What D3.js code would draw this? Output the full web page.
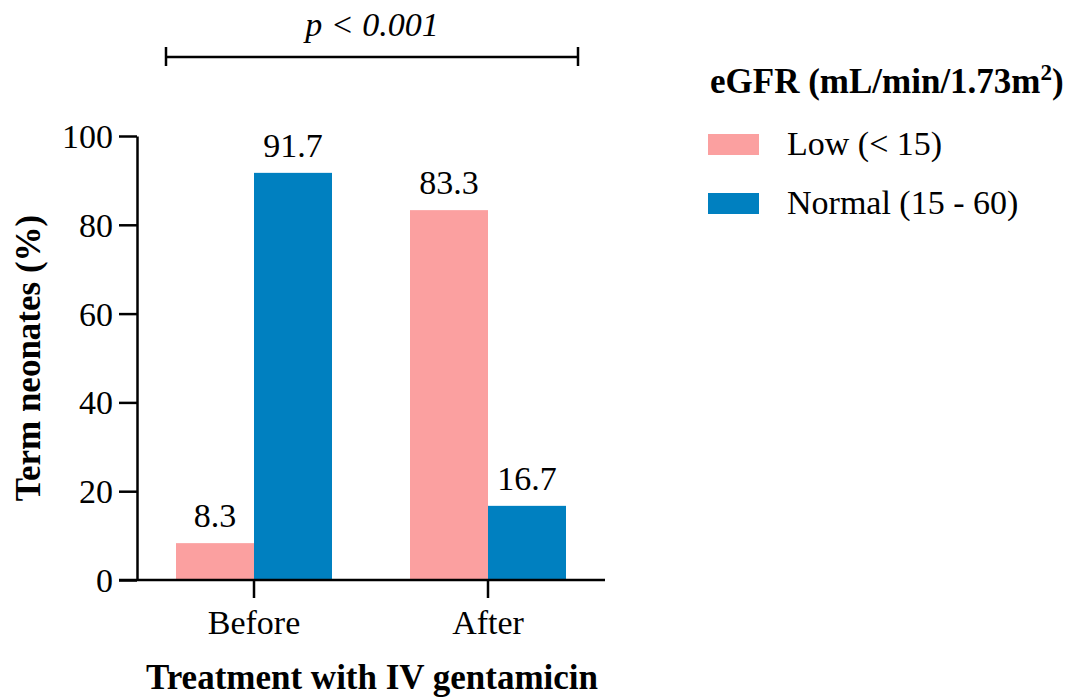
<!DOCTYPE html>
<html>
<head>
<meta charset="utf-8">
<script src="https://cdn.jsdelivr.net/npm/d3@7"></script>
<style>
  body { margin: 0; background: #fff; }
  svg text { font-family: "Liberation Serif", "Times New Roman", serif; fill: #000; }
</style>
</head>
<body>
<div id="chart"></div>
<script>
// data
var categories = ["Before", "After"];
var seriesNames = ["Low (< 15)", "Normal (15 - 60)"];
var lowValues = [8.3, 83.3];
var normalValues = [91.7, 16.7];
var yTicks = [0, 20, 40, 60, 80, 100];
var seriesColors = ["#FBA0A0", "#0080C0"];

var width = 1072, height = 700;
var margin = { top: 136, right: 467, bottom: 120, left: 137 };
var plotW = width - margin.left - margin.right;
var plotH = height - margin.top - margin.bottom;

var svg = d3.select("#chart").append("svg")
    .attr("width", width)
    .attr("height", height);

var g = svg.append("g")
    .attr("transform", "translate(" + margin.left + "," + margin.top + ")");

// scales
var x0 = d3.scaleBand()
    .domain(categories)
    .range([0, plotW])
    .paddingInner(1 / 3)
    .paddingOuter(1 / 6);

var x1 = d3.scaleBand()
    .domain(seriesNames)
    .range([0, x0.bandwidth()]);

var y = d3.scaleLinear()
    .domain([0, 100])
    .range([plotH, 0]);

// build rows for the grouped bars
var rows = categories.map(function(c, i) {
    return {
        cat: c,
        vals: [
            { name: seriesNames[0], value: lowValues[i], color: seriesColors[0] },
            { name: seriesNames[1], value: normalValues[i], color: seriesColors[1] }
        ]
    };
});

var groups = g.selectAll(".grp")
    .data(rows)
    .enter().append("g")
    .attr("class", "grp")
    .attr("transform", function(d) { return "translate(" + x0(d.cat) + ",0)"; });

groups.selectAll("rect")
    .data(function(d) { return d.vals; })
    .enter().append("rect")
    .attr("x", function(d) { return x1(d.name); })
    .attr("y", function(d) { return y(d.value); })
    .attr("width", x1.bandwidth())
    .attr("height", function(d) { return plotH - y(d.value); })
    .attr("fill", function(d) { return d.color; });

// value labels
groups.selectAll("text.val")
    .data(function(d) { return d.vals; })
    .enter().append("text")
    .attr("class", "val")
    .attr("x", function(d) { return x1(d.name) + x1.bandwidth() / 2; })
    .attr("y", function(d) { return y(d.value) - 16; })
    .attr("text-anchor", "middle")
    .style("font-size", "34px")
    .text(function(d) { return d.value.toFixed(1); });

// y axis
var yAxis = g.append("g")
    .call(d3.axisLeft(y).tickValues(yTicks).tickSize(18).tickPadding(6).tickSizeOuter(0));
yAxis.select(".domain").attr("stroke", "#000").attr("stroke-width", 2.5);
yAxis.selectAll(".tick line").attr("stroke", "#000").attr("stroke-width", 2.5);
yAxis.selectAll(".tick text")
    .style("font-size", "34px")
    .attr("dy", "0.34em");

// x axis: line runs from the y tick start to the right end
var xAxis = g.append("g")
    .attr("transform", "translate(0," + plotH + ")")
    .call(d3.axisBottom(x0).tickSize(18).tickPadding(12).tickSizeOuter(0));
xAxis.select(".domain").remove();
xAxis.insert("line", ":first-child")
    .attr("x1", -18).attr("x2", plotW)
    .attr("y1", 0).attr("y2", 0)
    .attr("stroke", "#000").attr("stroke-width", 2.5);
xAxis.selectAll(".tick line")
    .attr("stroke", "#000").attr("stroke-width", 2.5);
xAxis.selectAll(".tick text")
    .style("font-size", "34px")
    .attr("dy", "0.71em");

// axis titles
svg.append("text")
    .attr("x", 372)
    .attr("y", 689)
    .attr("text-anchor", "middle")
    .style("font-size", "35px")
    .style("font-weight", "bold")
    .text("Treatment with IV gentamicin");

svg.append("text")
    .attr("transform", "translate(40," + (margin.top + plotH / 2) + ") rotate(-90)")
    .attr("text-anchor", "middle")
    .style("font-size", "35px")
    .style("font-weight", "bold")
    .text("Term neonates (%)");

// significance bracket
var bx1 = 166, bx2 = 578, by = 57;
var bracket = svg.append("g").attr("stroke", "#000").attr("stroke-width", 2.5);
bracket.append("line").attr("x1", bx1).attr("x2", bx2).attr("y1", by).attr("y2", by);
bracket.append("line").attr("x1", bx1).attr("x2", bx1).attr("y1", by - 10).attr("y2", by + 9);
bracket.append("line").attr("x1", bx2).attr("x2", bx2).attr("y1", by - 10).attr("y2", by + 9);

svg.append("text")
    .attr("x", (bx1 + bx2) / 2)
    .attr("y", 36)
    .attr("text-anchor", "middle")
    .style("font-size", "34px")
    .style("font-style", "italic")
    .text("p < 0.001");

// legend
var legend = svg.append("g").attr("transform", "translate(708,0)");
var lt = legend.append("text")
    .attr("x", 2)
    .attr("y", 93)
    .style("font-size", "35px")
    .style("font-weight", "bold");
lt.append("tspan").text("eGFR (mL/min/1.73m");
lt.append("tspan").attr("dy", -13).style("font-size", "23px").text("2");
lt.append("tspan").attr("dy", 13).text(")");

var legendRows = legend.selectAll(".lrow")
    .data(seriesNames)
    .enter().append("g")
    .attr("class", "lrow")
    .attr("transform", function(d, i) { return "translate(0," + (134 + i * 59) + ")"; });

legendRows.append("rect")
    .attr("width", 51)
    .attr("height", 21)
    .attr("fill", function(d, i) { return seriesColors[i]; });

legendRows.append("text")
    .attr("x", 79)
    .attr("y", 21)
    .style("font-size", "34px")
    .text(function(d) { return d; });
</script>
</body>
</html>
